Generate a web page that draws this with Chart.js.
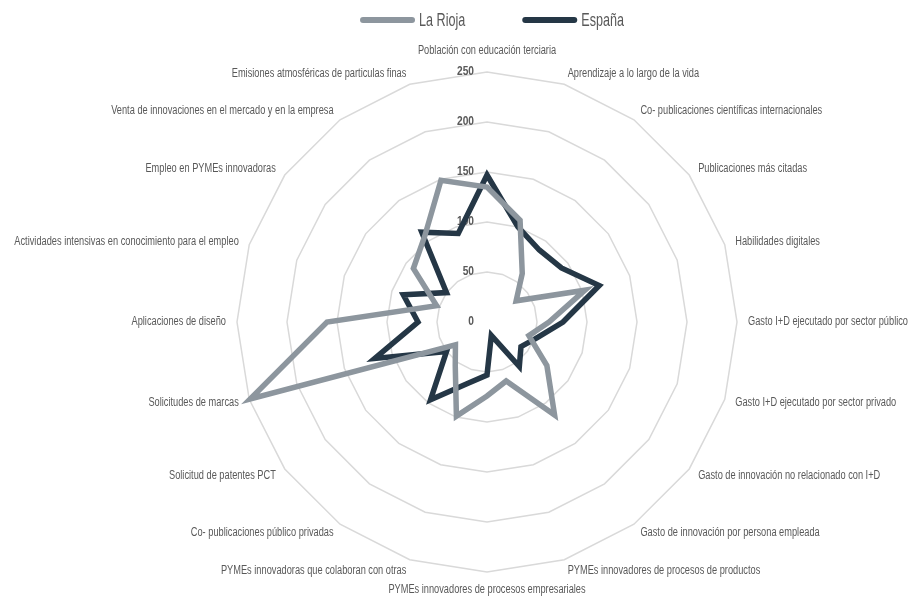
<!DOCTYPE html>
<html lang="es">
<head>
<meta charset="utf-8">
<title>La Rioja vs España</title>
<script src="https://cdn.jsdelivr.net/npm/chart.js@4.4.0/dist/chart.umd.min.js"></script>
<style>
  html, body { margin: 0; padding: 0; background: #ffffff; }
  #wrap { width: 913px; height: 598px; position: relative; }
</style>
</head>
<body>
<div id="wrap"><canvas id="chartRadar"></canvas></div>
<script>
// --- DATOS ---
const categorias = [
  'Población con educación terciaria',
  'Aprendizaje a lo largo de la vida',
  'Co- publicaciones científicas internacionales',
  'Publicaciones más citadas',
  'Habilidades digitales',
  'Gasto I+D ejecutado por sector público',
  'Gasto I+D ejecutado por sector privado',
  'Gasto de innovación no relacionado con I+D',
  'Gasto de innovación por persona empleada',
  'PYMEs innovadores de procesos de productos',
  'PYMEs innovadores de procesos empresariales',
  'PYMEs innovadoras que colaboran con otras',
  'Co- publicaciones público privadas',
  'Solicitud de patentes PCT',
  'Solicitudes de marcas',
  'Aplicaciones de diseño',
  'Actividades intensivas en conocimiento para el empleo',
  'Empleo en PYMEs innovadoras',
  'Venta de innovaciones en el mercado y en la empresa',
  'Emisiones atmosféricas de particulas finas'
];

const laRioja = [135, 107, 60, 36, 103, 62, 44, 74, 115, 62, 74, 99, 54, 39, 249, 160, 53, 91, 106, 149];
const espana  = [147, 100, 89, 92, 118, 76, 52, 42, 55, 14, 53, 65, 96, 50, 118, 69, 88, 50, 111, 93];

const ticksEje = [0, 50, 100, 150, 200, 250];

// Colores y fuente (la original es una fuente estrecha, se simula comprimiendo en horizontal)
const colorRioja = '#8d969e';
const colorEspana = '#253746';
const colorTexto = '#595959';
const fuente = "'Liberation Sans', Arial, sans-serif";
const estrecho = 0.77;

// Dibuja texto comprimido horizontalmente
function textoEstrecho(ctx, txt, x, y, align, baseline, escala) {
  ctx.save();
  ctx.translate(x, y);
  ctx.scale(escala, 1);
  ctx.textAlign = align;
  ctx.textBaseline = baseline;
  ctx.fillText(txt, 0, 0);
  ctx.restore();
}

// Etiquetas de categorías y del eje radial (estilo Excel)
const etiquetasRadar = {
  id: 'etiquetasRadar',
  beforeDatasetsDraw(chart) {
    const r = chart.scales.r;
    const ctx = chart.ctx;
    ctx.save();
    ctx.fillStyle = colorTexto;

    // Categorías
    ctx.font = '12px ' + fuente;
    const sep = 11;
    categorias.forEach((txt, i) => {
      const p = r.getPointPosition(i, r.drawingArea + sep);
      const ang = Math.round(i * 360 / categorias.length);
      if (ang === 0) {
        textoEstrecho(ctx, txt, p.x, p.y - 4, 'center', 'bottom', estrecho);
      } else if (ang === 180) {
        textoEstrecho(ctx, txt, p.x, p.y + 1, 'center', 'top', estrecho);
      } else {
        textoEstrecho(ctx, txt, p.x, p.y, ang < 180 ? 'left' : 'right', 'middle', estrecho);
      }
    });

    // Valores del eje
    ctx.font = 'bold 12px ' + fuente;
    ticksEje.forEach(v => {
      const y = r.yCenter - r.getDistanceFromCenterForValue(v);
      textoEstrecho(ctx, String(v), r.xCenter - 13, y, 'right', 'middle', 0.85);
    });
    ctx.restore();
  },
  afterDraw(chart) {
    // Leyenda superior
    const ctx = chart.ctx;
    const r = chart.scales.r;
    const largo = 55, hueco = 4, entre = 57, yLey = 20;
    ctx.save();
    ctx.font = '18px ' + fuente;
    const items = chart.data.datasets.map(ds => ({
      label: ds.label,
      color: ds.borderColor,
      w: ctx.measureText(ds.label).width * 0.7
    }));
    const total = items.reduce((s, it) => s + largo + hueco + it.w, 0) + entre * (items.length - 1);
    let x = r.xCenter + 5 - total / 2;
    items.forEach(it => {
      ctx.strokeStyle = it.color;
      ctx.lineWidth = 6;
      ctx.lineCap = 'round';
      ctx.beginPath();
      ctx.moveTo(x + 3, yLey);
      ctx.lineTo(x + largo - 3, yLey);
      ctx.stroke();
      ctx.fillStyle = colorTexto;
      textoEstrecho(ctx, it.label, x + largo + hueco, yLey + 1, 'left', 'middle', 0.7);
      x += largo + hueco + it.w + entre;
    });
    ctx.restore();
  }
};

const ctx = document.getElementById('chartRadar').getContext('2d');
new Chart(ctx, {
  type: 'radar',
  data: {
    labels: categorias,
    datasets: [
      {
        label: 'La Rioja',
        data: laRioja,
        borderColor: colorRioja,
        backgroundColor: 'rgba(0,0,0,0)',
        borderWidth: 5.5,
        pointRadius: 0,
        pointHoverRadius: 0,
        fill: false
      },
      {
        label: 'España',
        data: espana,
        borderColor: colorEspana,
        backgroundColor: 'rgba(0,0,0,0)',
        borderWidth: 5.5,
        pointRadius: 0,
        pointHoverRadius: 0,
        fill: false
      }
    ]
  },
  options: {
    responsive: true,
    maintainAspectRatio: false,
    animation: false,
    layout: { padding: { top: 72, bottom: 26, left: 237, right: 176 } },
    plugins: {
      legend: { display: false },
      tooltip: { enabled: false }
    },
    scales: {
      r: {
        min: 0,
        max: 250,
        ticks: { stepSize: 50, display: false },
        grid: { color: '#d9d9d9', lineWidth: 1.5, circular: false },
        angleLines: { display: false },
        pointLabels: { display: false }
      }
    }
  },
  plugins: [etiquetasRadar]
});
</script>
</body>
</html>
